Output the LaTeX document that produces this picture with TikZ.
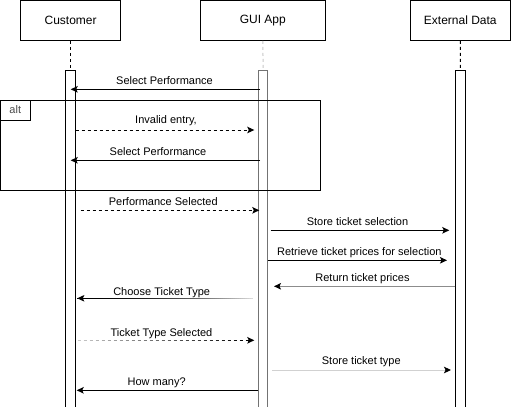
\documentclass[tikz,border=0pt]{standalone}
\usepackage{fontspec}
\setmainfont{Liberation Sans}
\usetikzlibrary{arrows.meta,calc}
\begin{document}
\begin{tikzpicture}[x=1pt,y=-1pt,line width=1pt,
  actorbox/.style={draw=black,fill=white,minimum height=40pt,inner sep=0,font=\fontsize{12}{14}\selectfont},
  lbl/.style={font=\fontsize{11}{13}\selectfont,anchor=base,inner sep=0},
  tip/.style={-{Stealth[length=7pt,width=6.5pt,inset=1.5pt,color=black]}},
  dotline/.style={dash pattern=on 3pt off 3pt},
  dashmsg/.style={dash pattern=on 3pt off 3pt}]
\useasboundingbox (0,0) rectangle (512,407);
% actors
\node[actorbox,minimum width=100pt] (cust) at (70.6,20.3) {Customer};
\node[actorbox,minimum width=125pt] (gui) at (262.8,20.3) {GUI App};
\node[actorbox,minimum width=99.5pt] (ext) at (460.3,20.3) {External Data};
% activation bars
\coordinate (cbt) at (70.6,70.7);
\coordinate (gbt) at (263.2,70.7);
\coordinate (ebt) at (460.5,70.7);
\draw[fill=white] (65.7,70.7) rectangle (75.4,412);
\draw[draw=black!55,fill=white] (258.7,70.7) rectangle (267.7,412);
\draw[fill=white] (455.7,70.7) rectangle (465.3,412);
% lifelines
\draw[dotline] (cust.south) -- (cbt);
\draw[dotline,draw=black!22] (gui.south) -- (gbt);
\draw[dotline] (ext.south) -- (ebt);
% alt frame
\draw (0.5,100.3) rectangle (320.5,190);
\draw (0.5,100.3) rectangle (30.3,120.3);
\node[font=\fontsize{11}{13}\selectfont,text=black!70,inner sep=0] (alt) at (15.3,109.5) {alt};
% message coordinates
\coordinate (m1a) at (260,89.3);   \coordinate (m1b) at (70.7,89.3);
\coordinate (m2a) at (75.7,130);   \coordinate (m2b) at (254.3,130);
\coordinate (m3a) at (260,160.3);  \coordinate (m3b) at (70.7,160.3);
\coordinate (m4a) at (80.7,210.3); \coordinate (m4b) at (259.3,210.3);
\coordinate (m5a) at (270.7,230.3);\coordinate (m5b) at (449.3,230.3);
\coordinate (m6a) at (267.7,260.3);\coordinate (m6b) at (447,260.3);
\coordinate (m7a) at (455.3,286.3);\coordinate (m7b) at (274,286.3);
\coordinate (m8a) at (254.5,298.3);\coordinate (m8b) at (77.3,298.3);
\coordinate (m9a) at (77.7,340.3); \coordinate (m9b) at (254.3,340.3);
\coordinate (m10a) at (272.3,370); \coordinate (m10b) at (451,370);
\coordinate (m11a) at (258.3,390.3);\coordinate (m11b) at (76.7,390.3);
% messages
\draw[tip] (m1a) -- (m1b);
\draw[tip,dashmsg] (m2a) -- (m2b);
\draw[tip] (m3a) -- (m3b);
\draw[tip,dashmsg] (m4a) -- (m4b);
\draw[tip] (m5a) -- (m5b);
\draw[tip] (m6a) -- (m6b);
\draw[tip,draw=black!45] (m7a) -- (m7b);
% gradient solid message (dark at the arrow end, light at the start)
\foreach \i in {0,...,87}{
  \pgfmathsetmacro\c{100-85*(\i/87)^2}
  \draw[draw=black!\c] ($(m8b)+(2*\i,0)$) -- ($(m8b)+(2*\i+2.05,0)$);
}
\draw[tip] ($(m8b)+(3,0)$) -- (m8b);
% gradient dashed message
\foreach \i in {0,...,28}{
  \pgfmathsetmacro\c{22+78*\i/28}
  \draw[draw=black!\c] ($(m9a)+(6*\i,0)$) -- ($(m9a)+(6*\i+3,0)$);
}
\draw[tip] ($(m9b)+(-3,0)$) -- (m9b);
\draw[tip,draw=black!18] (m10a) -- (m10b);
\draw[tip] (m11a) -- (m11b);
% labels
\node[lbl] (l1) at (164.5,84.3) {Select Performance};
\node[lbl] (l2) at (166,123) {Invalid entry,};
\node[lbl] (l3) at (158,155) {Select Performance};
\node[lbl] (l4) at (163.3,205) {Performance Selected};
\node[lbl] (l5) at (357.5,225.3) {Store ticket selection};
\node[lbl] (l6) at (359.3,255.3) {Retrieve ticket prices for selection};
\node[lbl] (l7) at (362.5,281.3) {Return ticket prices};
\node[lbl] (l8) at (161.7,295) {Choose Ticket Type};
\node[lbl] (l9) at (161.5,336.3) {Ticket Type Selected};
\node[lbl] (l10) at (361.3,364.3) {Store ticket type};
\node[lbl] (l11) at (156.7,385.7) {How many?};
\end{tikzpicture}
\end{document}
